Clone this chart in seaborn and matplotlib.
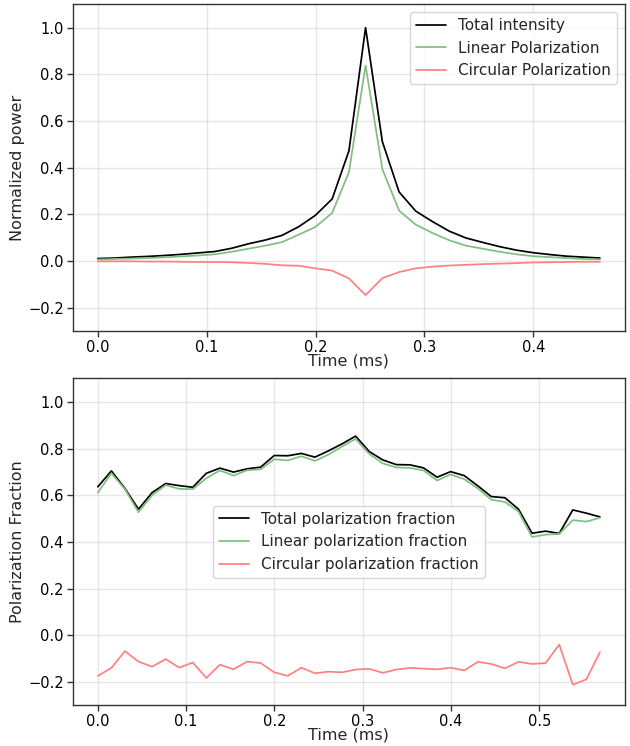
import matplotlib
matplotlib.use("Agg")
import matplotlib.pyplot as plt
import seaborn as sns

# ---- data ----
time_ms = [0.0, 0.0154, 0.0307, 0.0461, 0.0615, 0.0769, 0.0922, 0.1076, 0.1230, 0.1383,
           0.1537, 0.1691, 0.1844, 0.1998, 0.2152, 0.2306, 0.2459, 0.2613, 0.2767, 0.2920,
           0.3074, 0.3228, 0.3381, 0.3535, 0.3689, 0.3843, 0.3996, 0.4150, 0.4304, 0.4457,
           0.4611, 0.4765, 0.4918, 0.5072, 0.5226, 0.5380, 0.5533, 0.5687]

total_intensity = [0.011, 0.013, 0.017, 0.020, 0.024, 0.029, 0.035, 0.041, 0.055, 0.074,
                   0.090, 0.110, 0.147, 0.196, 0.266, 0.472, 1.000, 0.512, 0.296, 0.214,
                   0.169, 0.128, 0.099, 0.080, 0.062, 0.047, 0.036, 0.028, 0.021, 0.017,
                   0.013]
linear_pol = [0.007, 0.009, 0.011, 0.013, 0.016, 0.020, 0.024, 0.029, 0.040, 0.053,
              0.066, 0.081, 0.113, 0.146, 0.206, 0.381, 0.838, 0.394, 0.216, 0.156,
              0.120, 0.089, 0.066, 0.053, 0.040, 0.029, 0.021, 0.017, 0.013, 0.009,
              0.007]
circular_pol = [-0.001, -0.001, -0.001, -0.002, -0.002, -0.003, -0.004, -0.004, -0.005, -0.008,
                -0.012, -0.018, -0.020, -0.031, -0.041, -0.074, -0.146, -0.073, -0.047, -0.031,
                -0.024, -0.019, -0.016, -0.013, -0.011, -0.009, -0.006, -0.005, -0.004, -0.003,
                -0.003]

total_frac = [0.636, 0.704, 0.629, 0.540, 0.611, 0.650, 0.641, 0.634, 0.694, 0.716,
              0.699, 0.713, 0.720, 0.770, 0.769, 0.779, 0.763, 0.790, 0.820, 0.853,
              0.787, 0.751, 0.731, 0.730, 0.717, 0.677, 0.701, 0.684, 0.640, 0.594,
              0.589, 0.540, 0.437, 0.446, 0.436, 0.537, 0.523, 0.507]
linear_frac = [0.611, 0.694, 0.626, 0.527, 0.600, 0.643, 0.627, 0.626, 0.673, 0.706,
               0.684, 0.707, 0.711, 0.754, 0.749, 0.767, 0.747, 0.774, 0.809, 0.841,
               0.777, 0.736, 0.719, 0.717, 0.706, 0.663, 0.689, 0.669, 0.629, 0.581,
               0.571, 0.530, 0.421, 0.431, 0.434, 0.493, 0.487, 0.503]
circular_frac = [-0.174, -0.140, -0.068, -0.113, -0.135, -0.102, -0.139, -0.117, -0.183, -0.126,
                 -0.146, -0.113, -0.119, -0.159, -0.174, -0.139, -0.163, -0.156, -0.159, -0.147,
                 -0.144, -0.161, -0.147, -0.140, -0.143, -0.146, -0.139, -0.151, -0.114, -0.123,
                 -0.142, -0.114, -0.123, -0.119, -0.040, -0.212, -0.189, -0.073]

top_labels = ["Total intensity", "Linear Polarization", "Circular Polarization"]
bottom_labels = ["Total polarization fraction", "Linear polarization fraction",
                 "Circular polarization fraction"]

# ---- style ----
sns.set_style("ticks")
plt.rcParams["font.family"] = ["DejaVu Sans"]
plt.rcParams["axes.edgecolor"] = "#333333"
plt.rcParams["axes.linewidth"] = 1.0
plt.rcParams["xtick.color"] = "#333333"
plt.rcParams["ytick.color"] = "#333333"
plt.rcParams["xtick.labelcolor"] = "black"
plt.rcParams["ytick.labelcolor"] = "black"

fig, axes = plt.subplots(2, 1, figsize=(6.3, 7.46), dpi=100)
fig.subplots_adjust(left=0.1154, right=0.9921, top=0.9942, bottom=0.0546, hspace=0.145)

colors = ["black", (0.5, 0.75, 0.5), (1.0, 0.5, 0.5)]
lw = 1.25

def draw(ax, t, series, labels, loc):
    for y, lab, c in zip(series, labels, colors):
        sns.lineplot(x=t, y=y, ax=ax, color=c, linewidth=lw, label=lab)
    ax.set_ylim(-0.3, 1.1)
    ax.set_yticks([-0.2, 0.0, 0.2, 0.4, 0.6, 0.8, 1.0])
    ax.grid(True, color="#b0b0b0", alpha=0.3, linewidth=1.0)
    ax.set_axisbelow(True)
    ax.set_xlabel("Time (ms)", fontsize=11.5, labelpad=-1)
    ax.tick_params(labelsize=10.5, length=4, width=1.0, pad=2.5)
    for s in ax.spines.values():
        s.set_visible(True)
    leg = ax.legend(loc=loc, fontsize=11, frameon=True, fancybox=True, framealpha=0.8,
                    edgecolor="#cccccc")
    return leg

ax1, ax2 = axes
n_top = len(total_intensity)
draw(ax1, time_ms[:n_top], [total_intensity, linear_pol, circular_pol], top_labels, "upper right")
ax1.set_ylabel("Normalized power", fontsize=11.5, labelpad=2)
ax1.set_xticks([0.0, 0.1, 0.2, 0.3, 0.4])

draw(ax2, time_ms, [total_frac, linear_frac, circular_frac], bottom_labels, "center")
ax2.set_ylabel("Polarization Fraction", fontsize=11.5, labelpad=2)
ax2.set_xticks([0.0, 0.1, 0.2, 0.3, 0.4, 0.5])

fig.savefig("out.png", dpi=100)
